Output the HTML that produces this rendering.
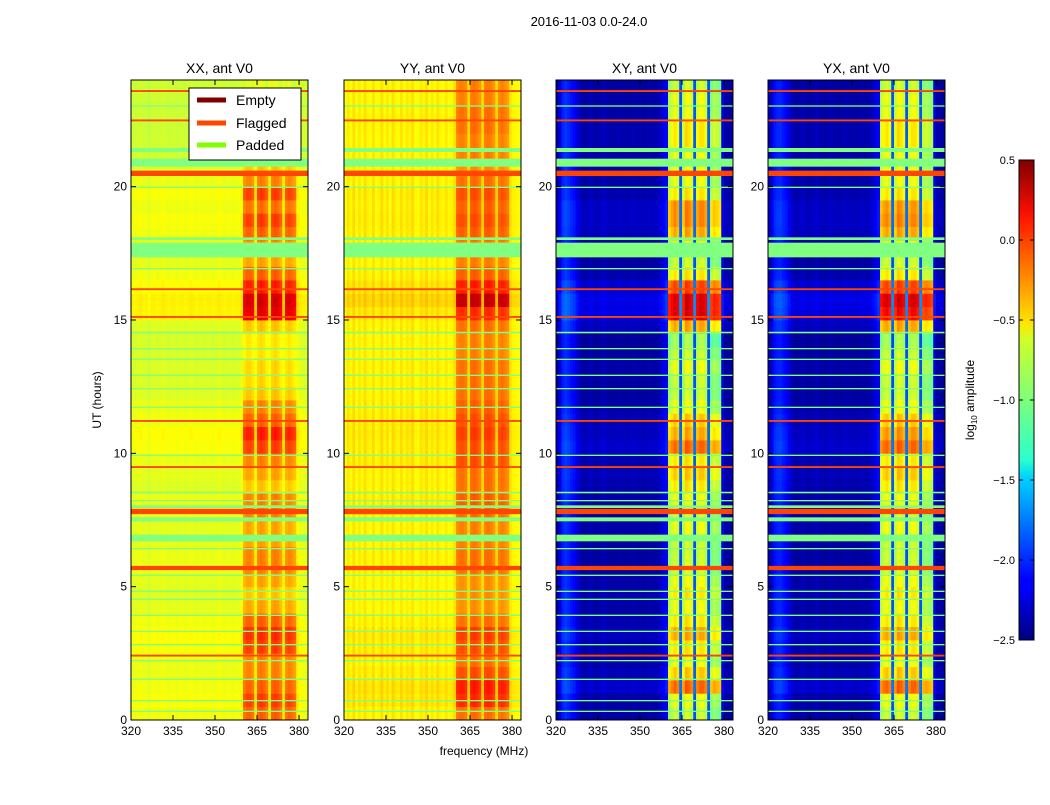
<!DOCTYPE html>
<html><head><meta charset="utf-8"><style>
body{margin:0;background:#fff;font-family:"Liberation Sans",sans-serif;}
svg text{font-family:"Liberation Sans",sans-serif;}
</style></head><body>
<svg id="fig" width="1050" height="800" xmlns="http://www.w3.org/2000/svg">
<rect width="1050" height="800" fill="#fff"/>
<text x="589" y="26" font-size="13" text-anchor="middle">2016-11-03 0.0-24.0</text>
<text x="484" y="755" font-size="12" text-anchor="middle">frequency (MHz)</text>
<text x="101" y="400" font-size="12" text-anchor="middle" transform="rotate(-90 101 400)">UT (hours)</text>
<g id="panels"></g>
<defs><linearGradient id="jetg" x1="0" y1="1" x2="0" y2="0">
<stop offset="0" stop-color="#000080"/><stop offset="0.11" stop-color="#0000ff"/><stop offset="0.125" stop-color="#0000ff"/><stop offset="0.34" stop-color="#00d4ff"/><stop offset="0.375" stop-color="#29ffce"/><stop offset="0.5" stop-color="#7dff7a"/><stop offset="0.625" stop-color="#ceff29"/><stop offset="0.66" stop-color="#ffe500"/><stop offset="0.875" stop-color="#ff1a00"/><stop offset="0.89" stop-color="#fa0f00"/><stop offset="1" stop-color="#800000"/>
</linearGradient></defs>
<g>
<rect x="1019" y="160" width="15" height="480" fill="url(#jetg)" stroke="#000" stroke-width="1"/>
<g id="cbticks"></g>
<text x="974" y="400" font-size="12" text-anchor="middle" transform="rotate(-90 974 400)">log<tspan font-size="8" dy="3">10</tspan><tspan dy="-3"> amplitude</tspan></text>
</g>
<g id="legend">
<rect x="189" y="88" width="112" height="72" fill="#fff" stroke="#000" stroke-width="1"/>
<line x1="197" y1="100" x2="226" y2="100" stroke="#800000" stroke-width="5"/>
<text x="236" y="105" font-size="14">Empty</text>
<line x1="197" y1="123" x2="226" y2="123" stroke="#ff4500" stroke-width="5"/>
<text x="236" y="128" font-size="14">Flagged</text>
<line x1="197" y1="145" x2="226" y2="145" stroke="#7fff00" stroke-width="5"/>
<text x="236" y="150" font-size="14">Padded</text>
</g>
</svg>
<script>
const panelTitles=["XX, ant V0","YY, ant V0","XY, ant V0","YX, ant V0"];
const xTicks=[320,335,350,365,380];
const yTicks=[0,5,10,15,20];
const cbTicks=[0.5,0.0,-0.5,-1.0,-1.5,-2.0,-2.5];
// frequency bins start 320, 1 MHz each (63 bins)
const colXX=[-0.7,-0.72,-0.7,-0.68,-0.72,-0.7,-0.75,-0.7,-0.7,-0.72,-0.7,-0.68,-0.7,-0.72,-0.7,-0.7,-0.72,-0.7,-0.7,-0.72,-0.7,-0.68,-0.7,-0.72,-0.7,-0.7,-0.72,-0.7,-0.7,-0.72,-0.7,-0.68,-0.7,-0.72,-0.7,-0.7,-0.72,-0.7,-0.7,-0.66,
-0.42,-0.36,-0.36,-0.42,-0.6,-0.36,-0.32,-0.36,-0.44,-0.6,-0.36,-0.32,-0.36,-0.44,-0.6,-0.4,-0.36,-0.4,-0.46,-0.62,-0.68,-0.7,-0.7];
const colYY=[-0.66,-0.58,-0.64,-0.55,-0.66,-0.58,-0.64,-0.55,-0.62,-0.64,-0.56,-0.66,-0.62,-0.55,-0.64,-0.58,-0.66,-0.55,-0.62,-0.64,-0.56,-0.64,-0.58,-0.62,-0.55,-0.64,-0.66,-0.58,-0.62,-0.55,-0.64,-0.58,-0.64,-0.56,-0.62,-0.64,-0.58,-0.64,-0.62,-0.55,
-0.34,-0.3,-0.3,-0.34,-0.52,-0.3,-0.27,-0.3,-0.37,-0.52,-0.3,-0.27,-0.3,-0.37,-0.52,-0.34,-0.3,-0.34,-0.4,-0.57,-0.62,-0.64,-0.64];
const colXY=[-2.4,-2.25,-2.05,-2.0,-2.05,-2.1,-2.15,-2.25,-2.35,-2.4,-2.42,-2.4,-2.35,-2.4,-2.42,-2.4,-2.38,-2.35,-2.4,-2.4,-2.42,-2.4,-2.38,-2.4,-2.4,-2.42,-2.4,-2.38,-2.4,-2.4,-2.4,-2.42,-2.4,-2.38,-2.4,-2.4,-2.38,-2.3,-2.25,-2.15,
-0.95,-0.85,-0.75,-0.85,-1.9,-0.95,-0.7,-0.75,-0.85,-1.9,-0.85,-0.75,-0.75,-0.85,-1.9,-1.05,-0.95,-1.0,-1.05,-2.25,-2.42,-2.42,-2.42];
const colYX=[-2.4,-2.25,-2.1,-2.05,-2.05,-2.1,-2.15,-2.25,-2.35,-2.4,-2.42,-2.4,-2.35,-2.4,-2.42,-2.4,-2.38,-2.35,-2.4,-2.4,-2.42,-2.4,-2.38,-2.4,-2.4,-2.42,-2.4,-2.38,-2.4,-2.4,-2.4,-2.42,-2.4,-2.38,-2.4,-2.4,-2.38,-2.3,-2.25,-2.15,
-0.9,-0.8,-0.75,-0.85,-1.9,-0.9,-0.7,-0.75,-0.85,-1.9,-0.85,-0.75,-0.75,-0.85,-1.9,-1.0,-0.95,-1.0,-1.05,-2.25,-2.42,-2.42,-2.42];
// time rows start 0 h, 0.5 h each (48 rows)
const rowXX=[0.2,0.3,0.2,0.1,0.1,0.3,0.35,0.2,0,-0.1,0,0.1,0.1,0,0,0.1,0.1,-0.1,0,0.1,0.3,0.4,0.2,0.1,-0.1,-0.15,-0.15,-0.2,-0.2,-0.1,0.55,0.6,0.4,0.2,0,0.05,0.2,0.3,0.15,0.3,0.1,-0.1,-0.3,-0.3,-0.35,-0.35,-0.35,-0.35];
const rowYY=[0.1,0.3,0.35,0.2,0.1,0.2,0.25,0.1,0,0,0,0.1,0.1,0.05,0.05,0.1,0.15,0.1,0.1,0.2,0.2,0.25,0.2,0.15,0.1,0.1,0.1,0.05,0.05,0.1,0.3,0.6,0.35,0.15,0.05,0.05,0.15,0.2,0.15,0.2,0.1,0,0.05,0.05,0.1,0.1,0.05,0.05];
const rowXY=[0,0.1,0.6,0.3,0.1,0.2,0.4,0.2,0.1,0.2,0.1,0,0,0,0.1,0,0.1,0.2,0.3,0.2,0.6,0.4,0.3,0.1,0,0,0.1,0,-0.1,0.4,1.0,1.0,0.7,0.2,0,0,0.4,0.5,0.5,0.2,0.1,0.1,0.1,0.2,0.2,0.1,0.1,0];
const rowYX=[0,0.1,0.6,0.3,0.1,0.2,0.4,0.2,0.1,0.2,0.1,0,0,0,0.1,0,0.1,0.2,0.3,0.2,0.6,0.45,0.3,0.1,0,0,0.1,0,-0.1,0.4,0.9,1.0,0.7,0.2,0,0,0.4,0.5,0.45,0.2,0.1,0.1,0.1,0.2,0.2,0.1,0.1,0];
// flagged [start hour, end hour]
const flaggedRows=[[23.55,23.62],[22.45,22.52],[20.4,20.6],[16.12,16.19],[15.08,15.15],[11.18,11.25],[9.45,9.52],[7.72,7.92],[5.62,5.78],[2.38,2.45]];
// padded [start hour, end hour]
const paddedRows=[[23.0,23.05],[21.3,21.45],[20.75,21.05],[19.95,20.0],[18.0,18.1],[17.35,17.9],[16.9,16.95],[14.5,14.56],[13.9,13.95],[13.5,13.55],[12.9,12.95],[12.4,12.45],[11.7,11.75],[9.9,9.95],[8.5,8.56],[8.2,8.25],[7.95,8.05],[7.45,7.6],[6.7,6.95],[6.4,6.45],[5.4,5.45],[4.8,4.85],[4.5,4.55],[3.9,3.95],[3.3,3.35],[2.8,2.85],[2.2,2.25],[1.5,1.55],[0.7,0.75],[0.3,0.35]];
const panelCols=[colXX,colYY,colXY,colYX];
const panelRows=[rowXX,rowYY,rowXY,rowYX];
const panelLeft=[131,344,556,768];
const PW=177, PT=80, PB=720;
const F0=320,F1=383.2,T0=0,T1=24;
function jet(v){let t=(v+2.5)/3;t=Math.max(0,Math.min(1,t));
 const c=x=>Math.round(255*Math.max(0,Math.min(1,1.5-Math.abs(x))));
 return `rgb(${c(4*t-3)},${c(4*t-2)},${c(4*t-1)})`;}
const NS="http://www.w3.org/2000/svg";
function mk(tag,attrs,parent){const e=document.createElementNS(NS,tag);for(const k in attrs)e.setAttribute(k,attrs[k]);parent.appendChild(e);return e;}
const root=document.getElementById('panels');
panelTitles.forEach((title,p)=>{
 const L=panelLeft[p];
 const xs=f=>L+(f-F0)/(F1-F0)*PW;
 const ys=h=>PB-(h-T0)/(T1-T0)*(PB-PT);
 const g=mk('g',{},root);
 
 
 const cols=panelCols[p], rows=panelRows[p];
 const base=Math.min(...cols), top=Math.max(...cols), mid=(base+top)/2;
 cols.forEach((cv,j)=>{
  const band=cv>mid?1:0.2;
  const x0=xs(F0+j), x1=Math.min(xs(F0+j+1),L+PW);
  rows.forEach((rv,i)=>{
   const y0=ys(i*0.5+0.5), y1=ys(i*0.5);
   const r=mk('rect',{x:x0.toFixed(2),y:y0.toFixed(2),width:(x1-x0+0.4).toFixed(2),height:(y1-y0+0.4).toFixed(2),fill:jet(cv+rv*band)},g);
   
   
  });
 });
 paddedRows.forEach(([a,b])=>{
  const r=mk('rect',{x:L,y:ys(b),width:PW,height:Math.max(1.2,ys(a)-ys(b)),fill:'#80ff80'},g);
  
  
 });
 flaggedRows.forEach(([a,b])=>{
  const r=mk('rect',{x:L,y:ys(b),width:PW,height:Math.max(1.2,ys(a)-ys(b)),fill:'#ff4500'},g);
  
  
 });
 mk('rect',{x:L,y:PT,width:PW,height:PB-PT,fill:'none',stroke:'#000','stroke-width':1},g);
 const t=mk('text',{x:L+PW/2,y:73,'font-size':14,'text-anchor':'middle'},g);t.textContent=title;
 
 
 xTicks.forEach(v=>{const x=xs(v);
  mk('line',{x1:x,y1:PB,x2:x,y2:PB-5,stroke:'#000'},g);
  mk('line',{x1:x,y1:PT,x2:x,y2:PT+5,stroke:'#000'},g);
  const tx=mk('text',{x:x,y:PB+15,'font-size':12,'text-anchor':'middle'},g);tx.textContent=v;
  
  
 });
 yTicks.forEach(v=>{const y=ys(v);
  mk('line',{x1:L,y1:y,x2:L+5,y2:y,stroke:'#000'},g);
  mk('line',{x1:L+PW,y1:y,x2:L+PW-5,y2:y,stroke:'#000'},g);
  const ty=mk('text',{x:L-4,y:y+4,'font-size':12,'text-anchor':'end'},g);ty.textContent=v;
  
  
 });
});
const cb=document.getElementById('cbticks');
cbTicks.forEach(v=>{const y=640-(v+2.5)/3*480;
 mk('line',{x1:1019,y1:y,x2:1023,y2:y,stroke:'#000'},cb);
 mk('line',{x1:1034,y1:y,x2:1030,y2:y,stroke:'#000'},cb);
 const t=mk('text',{x:1015,y:y+4,'font-size':11,'text-anchor':'end'},cb);t.textContent=(v<0?'\u2212':'')+Math.abs(v).toFixed(1);
 
 
});
document.getElementById('fig').appendChild(document.getElementById('legend'));
</script>
</body></html>
